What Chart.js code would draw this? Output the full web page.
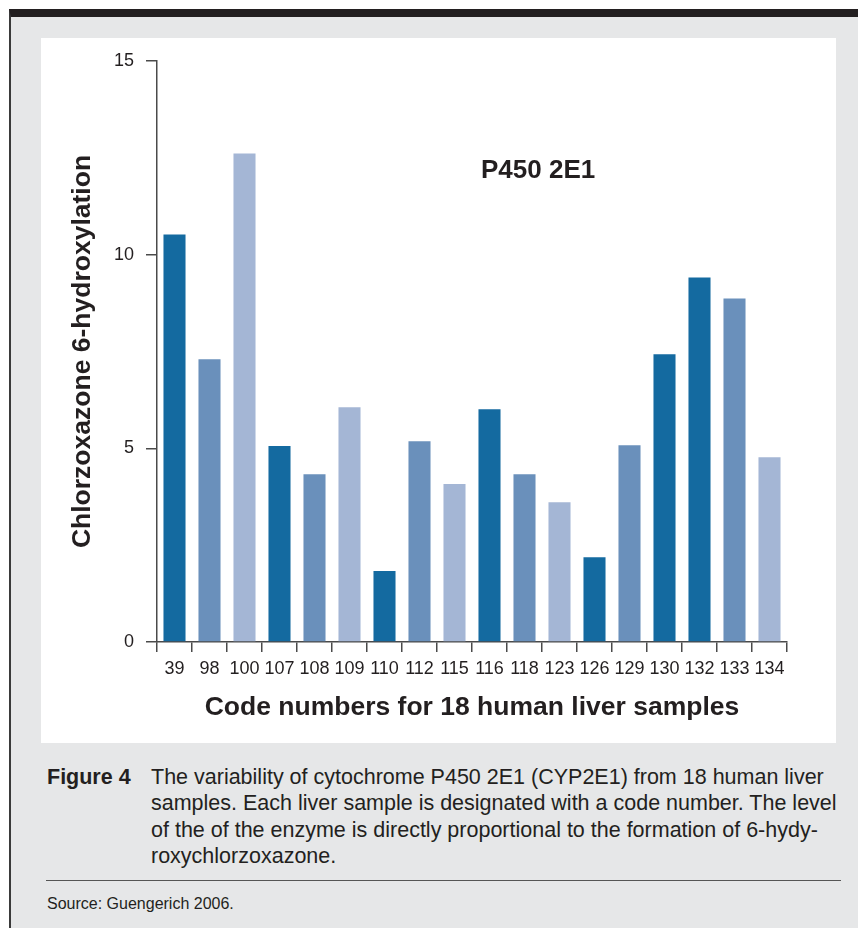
<!DOCTYPE html>
<html>
<head>
<meta charset="utf-8">
<script src="https://cdn.jsdelivr.net/npm/chart.js@4.4.1/dist/chart.umd.min.js"></script>
<style>
    body { margin: 0; background: #ffffff; font-family: "Liberation Sans", Arial, Helvetica, sans-serif; color: #231f20; }
    #page { position: relative; width: 858px; height: 928px; overflow: hidden; }
    #frame { position: absolute; left: 9px; top: 9px; width: 860px; height: 930px; background: #e6e7e8;
             border-top: 8px solid #231f20; border-left: 2px solid #3a3a3a; box-sizing: border-box; }
    #panel { position: absolute; left: 41px; top: 38px; width: 795px; height: 705px; background: #ffffff; }
    #chartLabel { position: absolute; left: 481px; top: 154px; font-weight: bold; font-size: 26px; line-height: 30px; white-space: nowrap; }
    .caption { position: absolute; font-size: 21.5px; line-height: 26.3px; white-space: nowrap; }
    #figNo { left: 47px; top: 764px; font-weight: bold; }
    #figText { left: 151px; top: 764px; }
    #rule { position: absolute; left: 46px; top: 880px; width: 795px; height: 0; border-top: 1.5px solid #555555; }
    #source { position: absolute; left: 47px; top: 895px; font-size: 16px; line-height: 18px; }
</style>
</head>
<body>
<div id="page">
    <div id="frame"></div>
    <div id="panel"><canvas id="p450Chart" width="795" height="705"></canvas></div>
    <div id="chartLabel">P450 2E1</div>
    <div class="caption" id="figNo">Figure 4</div>
    <div class="caption" id="figText">The variability of cytochrome P450 2E1 (CYP2E1) from 18 human liver<br>samples. Each liver sample is designated with a code number. The level<br>of the of the enzyme is directly proportional to the formation of 6-hydy-<br>roxychlorzoxazone.</div>
    <div id="rule"></div>
    <div id="source">Source: Guengerich 2006.</div>
</div>
<script>
// liver sample codes and chlorzoxazone 6-hydroxylation values
const sampleCodes = ["39", "98", "100", "107", "108", "109", "110", "112", "115",
                     "116", "118", "123", "126", "129", "130", "132", "133", "134"];
const hydroxylation = [10.52, 7.30, 12.61, 5.06, 4.33, 6.06, 1.83, 5.18, 4.08,
                       6.01, 4.33, 3.61, 2.19, 5.08, 7.43, 9.41, 8.87, 4.77];
const shadeIndex = [0, 1, 2, 0, 1, 2, 0, 1, 2, 0, 1, 2, 0, 1, 0, 0, 1, 2];
const yTicks = [0, 5, 10, 15];

const shades = ["#146aa0", "#6a90bb", "#a4b6d5"];
const axisColor = "#4a4a4a";
const fontFamily = "'Liberation Sans', Arial, Helvetica, sans-serif";

document.addEventListener("DOMContentLoaded", function () {
    const ctx = document.getElementById("p450Chart").getContext("2d");

    new Chart(ctx, {
        type: "bar",
        data: {
            labels: sampleCodes,
            datasets: [{
                data: hydroxylation,
                backgroundColor: shadeIndex.map((i) => shades[i]),
                borderWidth: 0,
                barPercentage: 0.63,
                categoryPercentage: 1.0
            }]
        },
        options: {
            responsive: false,
            animation: false,
            layout: { padding: { top: 23, right: 49, left: 0, bottom: 0 } },
            plugins: {
                legend: { display: false },
                tooltip: { enabled: false }
            },
            scales: {
                x: {
                    grid: { offset: true, drawOnChartArea: false, tickLength: 10, color: axisColor, lineWidth: 1.5 },
                    border: { color: axisColor, width: 1.5 },
                    ticks: { color: "#231f20", font: { family: fontFamily, size: 18 }, padding: 6,
                             autoSkip: false, maxRotation: 0, minRotation: 0 },
                    title: { display: true, text: "Code numbers for 18 human liver samples", color: "#231f20",
                             font: { family: fontFamily, size: 26.5, weight: "bold" }, padding: { top: 0, bottom: 19 } },
                    afterFit: function (scale) { scale.height = 101; }
                },
                y: {
                    min: 0,
                    max: 15,
                    afterBuildTicks: function (scale) { scale.ticks = yTicks.map((v) => ({ value: v })); },
                    grid: { drawOnChartArea: false, tickLength: 11, color: axisColor, lineWidth: 1.5 },
                    border: { color: axisColor, width: 1.5 },
                    ticks: { color: "#231f20", font: { family: fontFamily, size: 18 }, padding: 12 },
                    title: { display: true, text: "Chlorzoxazone 6-hydroxylation", color: "#231f20",
                             font: { family: fontFamily, size: 26.5, weight: "bold" }, padding: { top: 26, bottom: 0 } },
                    afterFit: function (scale) { scale.width = 116; }
                }
            }
        }
    });
});
</script>
</body>
</html>
